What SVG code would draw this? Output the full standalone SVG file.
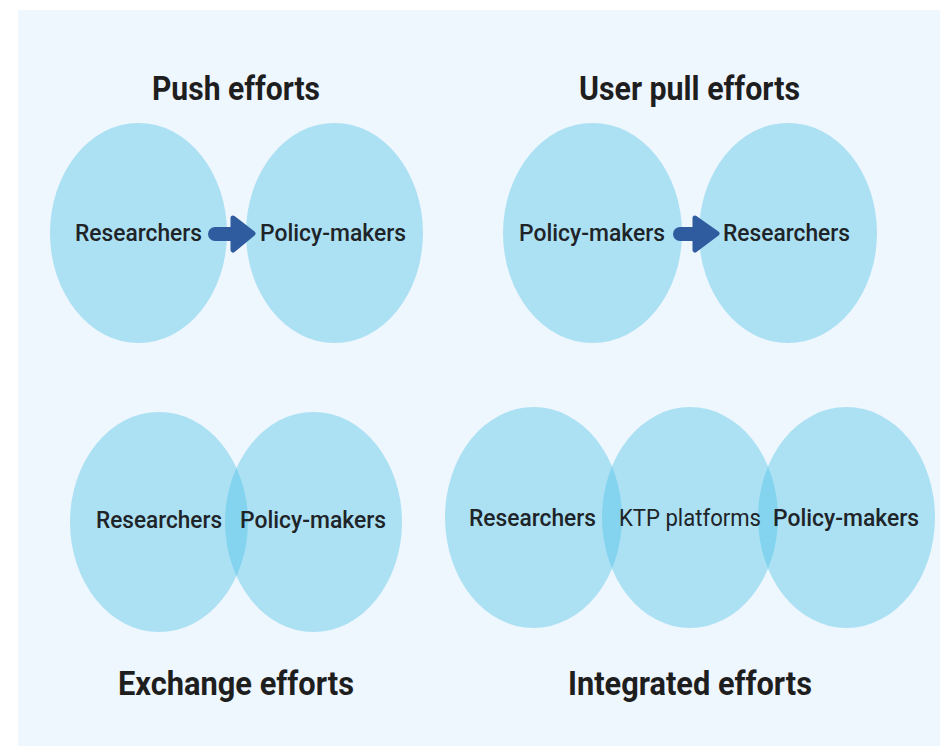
<svg xmlns="http://www.w3.org/2000/svg" width="940" height="746" viewBox="0 0 940 746">
  <defs>
    <style>
      .panel { fill: #EEF6FE; }
      .blob { fill: #ACE1F4; }
      .lens { fill: #84D4EF; }
      .title { font-family: Roboto, "Liberation Sans", sans-serif; font-weight: 700; font-size: 33px; fill: #1E1E1E; }
      .label { font-family: Roboto, "Liberation Sans", sans-serif; font-weight: 500; font-size: 23px; fill: #1E2428; }
      .label.light { font-weight: 400; }
      .shaft { stroke: #2F5B9F; stroke-width: 14; stroke-linecap: round; fill: none; }
      .head { fill: #2F5B9F; stroke: #2F5B9F; stroke-width: 5; stroke-linejoin: round; }
    </style>
    <clipPath id="clipExR"><ellipse cx="159" cy="522" rx="89" ry="110"/></clipPath>
    <clipPath id="clipInA"><ellipse cx="533.5" cy="517.5" rx="88.5" ry="110.5"/></clipPath>
    <clipPath id="clipInB"><ellipse cx="690" cy="517.5" rx="88" ry="110.5"/></clipPath>
  </defs>

  <rect class="panel" x="18" y="10" width="922" height="736"/>

  <!-- Push efforts -->
  <g id="push">
    <text class="title" x="152" y="100" textLength="168" lengthAdjust="spacingAndGlyphs">Push efforts</text>
    <g id="push-researchers">
      <ellipse class="blob" cx="138.5" cy="233" rx="88.5" ry="110"/>
      <text class="label" x="75" y="241" textLength="127" lengthAdjust="spacingAndGlyphs">Researchers</text>
    </g>
    <g id="push-policy">
      <ellipse class="blob" cx="334.5" cy="233" rx="88.5" ry="110"/>
      <text class="label" x="260" y="241" textLength="146" lengthAdjust="spacingAndGlyphs">Policy-makers</text>
    </g>
  </g>

  <!-- User pull efforts -->
  <g id="pull">
    <text class="title" x="579" y="100" textLength="221" lengthAdjust="spacingAndGlyphs">User pull efforts</text>
    <g id="pull-policy">
      <ellipse class="blob" cx="592.5" cy="233" rx="89.5" ry="110"/>
      <text class="label" x="519" y="241" textLength="146" lengthAdjust="spacingAndGlyphs">Policy-makers</text>
    </g>
    <g id="pull-researchers">
      <ellipse class="blob" cx="788" cy="233" rx="89" ry="110"/>
      <text class="label" x="723" y="241" textLength="127" lengthAdjust="spacingAndGlyphs">Researchers</text>
    </g>
  </g>

  <!-- Exchange efforts -->
  <g id="exchange">
    <g id="exchange-researchers">
      <ellipse class="blob" cx="159" cy="522" rx="89" ry="110"/>
    </g>
    <g id="exchange-policy">
      <ellipse class="blob" cx="313.5" cy="522" rx="88.5" ry="110"/>
    </g>
    <ellipse class="lens" cx="313.5" cy="522" rx="88.5" ry="110" clip-path="url(#clipExR)"/>
    <text class="label" x="96" y="528" textLength="126" lengthAdjust="spacingAndGlyphs">Researchers</text>
    <text class="label" x="240" y="528" textLength="146" lengthAdjust="spacingAndGlyphs">Policy-makers</text>
    <text class="title" x="118" y="695" textLength="236" lengthAdjust="spacingAndGlyphs">Exchange efforts</text>
  </g>

  <!-- Integrated efforts -->
  <g id="integrated">
    <g id="integrated-researchers">
      <ellipse class="blob" cx="533.5" cy="517.5" rx="88.5" ry="110.5"/>
    </g>
    <g id="integrated-ktp">
      <ellipse class="blob" cx="690" cy="517.5" rx="88" ry="110.5"/>
    </g>
    <g id="integrated-policy">
      <ellipse class="blob" cx="846.5" cy="517.5" rx="88.5" ry="110.5"/>
    </g>
    <ellipse class="lens" cx="690" cy="517.5" rx="88" ry="110.5" clip-path="url(#clipInA)"/>
    <ellipse class="lens" cx="846.5" cy="517.5" rx="88.5" ry="110.5" clip-path="url(#clipInB)"/>
    <text class="label" x="469" y="526" textLength="127" lengthAdjust="spacingAndGlyphs">Researchers</text>
    <text class="label light" x="619" y="526" textLength="142" lengthAdjust="spacingAndGlyphs">KTP platforms</text>
    <text class="label" x="773" y="526" textLength="146" lengthAdjust="spacingAndGlyphs">Policy-makers</text>
    <text class="title" x="568" y="695" textLength="244" lengthAdjust="spacingAndGlyphs">Integrated efforts</text>
  </g>

  <!-- Connectors -->
  <g id="connectors">
    <line class="shaft" x1="215" y1="234" x2="236" y2="234"/>
    <polygon class="head" points="233,218 253,233.5 233,250"/>
    <line class="shaft" x1="680" y1="234" x2="698" y2="234"/>
    <polygon class="head" points="695,218 717,233.5 695,250"/>
  </g>
</svg>
